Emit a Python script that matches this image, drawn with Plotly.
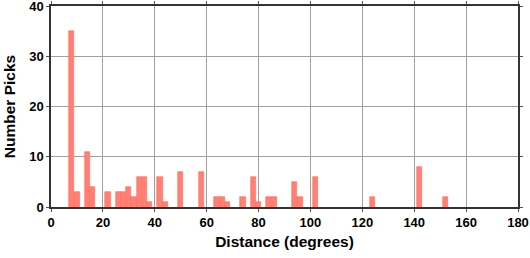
import plotly.graph_objects as go

bin_centers = [8, 10, 14, 16, 22, 26, 28, 30, 32, 34, 36, 38, 42, 44, 50, 58,
               64, 66, 68, 74, 78, 80, 84, 86, 94, 96, 102, 124, 142, 152]
picks = [35, 3, 11, 4, 3, 3, 3, 4, 2, 6, 6, 1, 6, 1, 7, 7,
         2, 2, 1, 2, 6, 1, 2, 2, 5, 2, 6, 2, 8, 2]
bin_width = 2

fig = go.Figure()
fig.add_trace(go.Bar(
    x=bin_centers, y=picks, width=bin_width,
    marker=dict(color="#ff8175", line=dict(color="#ff6a5e", width=0.6)),
))

font = dict(family="Liberation Sans", size=13, color="black", weight="bold")
title_font = dict(family="Liberation Sans", size=15.5, color="black", weight="bold")
fig.update_layout(
    width=530, height=258,
    margin=dict(l=51, r=12, t=6, b=51),
    paper_bgcolor="white", plot_bgcolor="white",
    showlegend=False, bargap=0,
    font=font,
)
fig.update_xaxes(
    range=[0, 180], tick0=0, dtick=20, automargin=False, ticklabeloverflow="allow",
    showgrid=True, gridcolor="#a0a0a0", gridwidth=1,
    showline=True, linecolor="#333", linewidth=1.5, mirror="ticks",
    ticks="outside", ticklen=3, tickcolor="#555",
    tickfont=font, zeroline=False,
    title=dict(text="Distance (degrees)", font=title_font, standoff=7),
)
fig.update_yaxes(
    range=[0, 40], tick0=0, dtick=10, automargin=False, ticklabeloverflow="allow",
    showgrid=True, gridcolor="#a0a0a0", gridwidth=1,
    showline=True, linecolor="#333", linewidth=1.5, mirror="ticks",
    ticks="outside", ticklen=3, tickcolor="#555",
    tickfont=font, zeroline=False,
    title=dict(text="Number Picks", font=title_font, standoff=10),
)

fig.write_html("out.html")
